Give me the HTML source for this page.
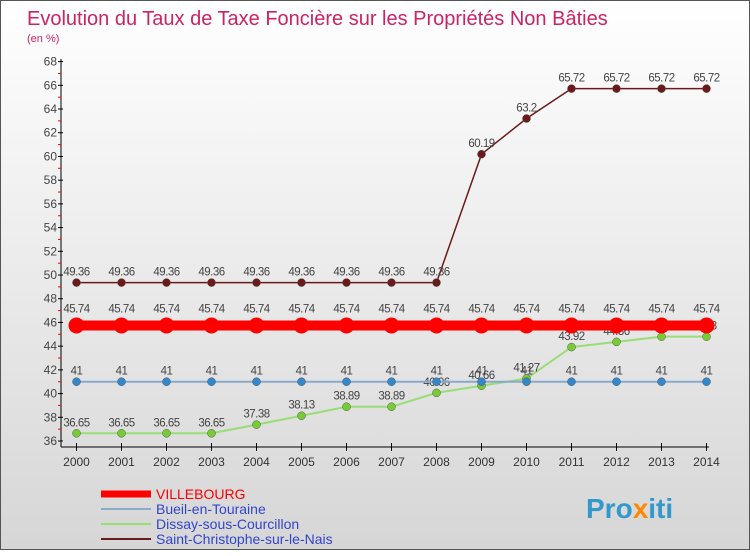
<!DOCTYPE html>
<html><head><meta charset="utf-8"><style>
body{margin:0;width:750px;height:550px;overflow:hidden;font-family:"Liberation Sans",sans-serif}
#c{position:absolute;left:0;top:0;width:750px;height:550px;background:linear-gradient(#fff,#d6d6d6);box-sizing:border-box;border:1px solid #555}
</style></head><body>
<div id="c">
<svg id="s" width="750" height="550">
<text x="26" y="24" font-size="20" fill="#cc2266">Evolution du Taux de Taxe Foncière sur les Propriétés Non Bâties</text>
<text x="26" y="41" font-size="11" fill="#cc2266">(en %)</text>
<g id="ax"></g><g id="ser"></g>
<text x="585" y="517" font-size="28" font-weight="bold" fill="#3399cc">Pro<tspan fill="#ff8800">x</tspan>iti</text>
</svg></div>
<script>
const years=[2000,2001,2002,2003,2004,2005,2006,2007,2008,2009,2010,2011,2012,2013,2014];
const villebourg=[45.74,45.74,45.74,45.74,45.74,45.74,45.74,45.74,45.74,45.74,45.74,45.74,45.74,45.74,45.74];
const bueil=[41,41,41,41,41,41,41,41,41,41,41,41,41,41,41];
const dissay=[36.65,36.65,36.65,36.65,37.38,38.13,38.89,38.89,40.06,40.66,41.27,43.92,44.36,44.8,44.8];
const stChristophe=[49.36,49.36,49.36,49.36,49.36,49.36,49.36,49.36,49.36,60.19,63.2,65.72,65.72,65.72,65.72];
const yTicks=[36,38,40,42,44,46,48,50,52,54,56,58,60,62,64,66,68];
const NS="http://www.w3.org/2000/svg";
const X=i=>75.5+i*45, Y=v=>440-(v-36)*11.856;
function mk(p,t,a){const e=document.createElementNS(NS,t);for(const k in a)e.setAttribute(k,a[k]);p.appendChild(e);return e;}
const ax=document.getElementById('ax'),ser=document.getElementById('ser');
let l=mk(ax,'line',{x1:60,y1:58,x2:60,y2:446,stroke:'#000'});

l=mk(ax,'line',{x1:60,y1:446,x2:708,y2:446,stroke:'#000'});

yTicks.forEach((v,k)=>{const y=Y(v);
mk(ax,'line',{x1:57,y1:y,x2:62,y2:y,stroke:'#000'});
if(k<yTicks.length-1)mk(ax,'line',{x1:57,y1:y-11.856,x2:60,y2:y-11.856,stroke:'#f00'});
const t=mk(ax,'text',{x:56,y:y+4,'font-size':12,'text-anchor':'end',fill:'#444'});t.textContent=v;
});
years.forEach((yr,i)=>{mk(ax,'line',{x1:X(i),y1:442,x2:X(i),y2:450,stroke:'#000'});
const t=mk(ax,'text',{x:X(i),y:465,'font-size':12,'text-anchor':'middle',fill:'#333'});t.textContent=yr;
});
const series=[
{n:'saint-christophe',d:stChristophe,c:'#6b1a1a',w:1.5,r:4,f:'#6b1a1a',label:'Saint-Christophe-sur-le-Nais'},
{n:'dissay',d:dissay,c:'#99dd77',w:2,r:4,f:'#77cc33',label:'Dissay-sous-Courcillon'},
{n:'bueil',d:bueil,c:'#88aacc',w:2,r:4,f:'#3388cc',label:'Bueil-en-Touraine'},
{n:'villebourg',d:villebourg,c:'#ff0000',w:10,r:8,f:'#ff0000',label:'VILLEBOURG'}];
series.forEach(s=>{
const g=mk(ser,'g',{});
const p=mk(g,'polyline',{points:s.d.map((v,i)=>X(i)+','+Y(v)).join(' '),fill:'none',stroke:s.c,'stroke-width':s.w});

s.d.forEach((v,i)=>{const c=mk(g,'circle',{cx:X(i),cy:Y(v),r:s.r,fill:s.f,stroke:s.n=='villebourg'?'none':'#555','stroke-width':0.5});

const t=mk(g,'text',{x:X(i),y:Y(v)-(s.n=='villebourg'?13:7),'font-size':11.5,'text-anchor':'middle',fill:'#444','letter-spacing':'-0.5'});
t.textContent=String(v);
});});
const leg=[series[3],series[2],series[1],series[0]];
leg.forEach((s,i)=>{const y=493+i*15;
const g=mk(ax,'g',{});
mk(g,'line',{x1:100,y1:y,x2:150,y2:y,stroke:s.c,'stroke-width':s.n=='villebourg'?7:2});
const t=mk(g,'text',{x:155,y:y+5,'font-size':14,fill:s.n=='villebourg'?'#ff0000':'#3344cc'});t.textContent=s.label;});
</script>
</body></html>
